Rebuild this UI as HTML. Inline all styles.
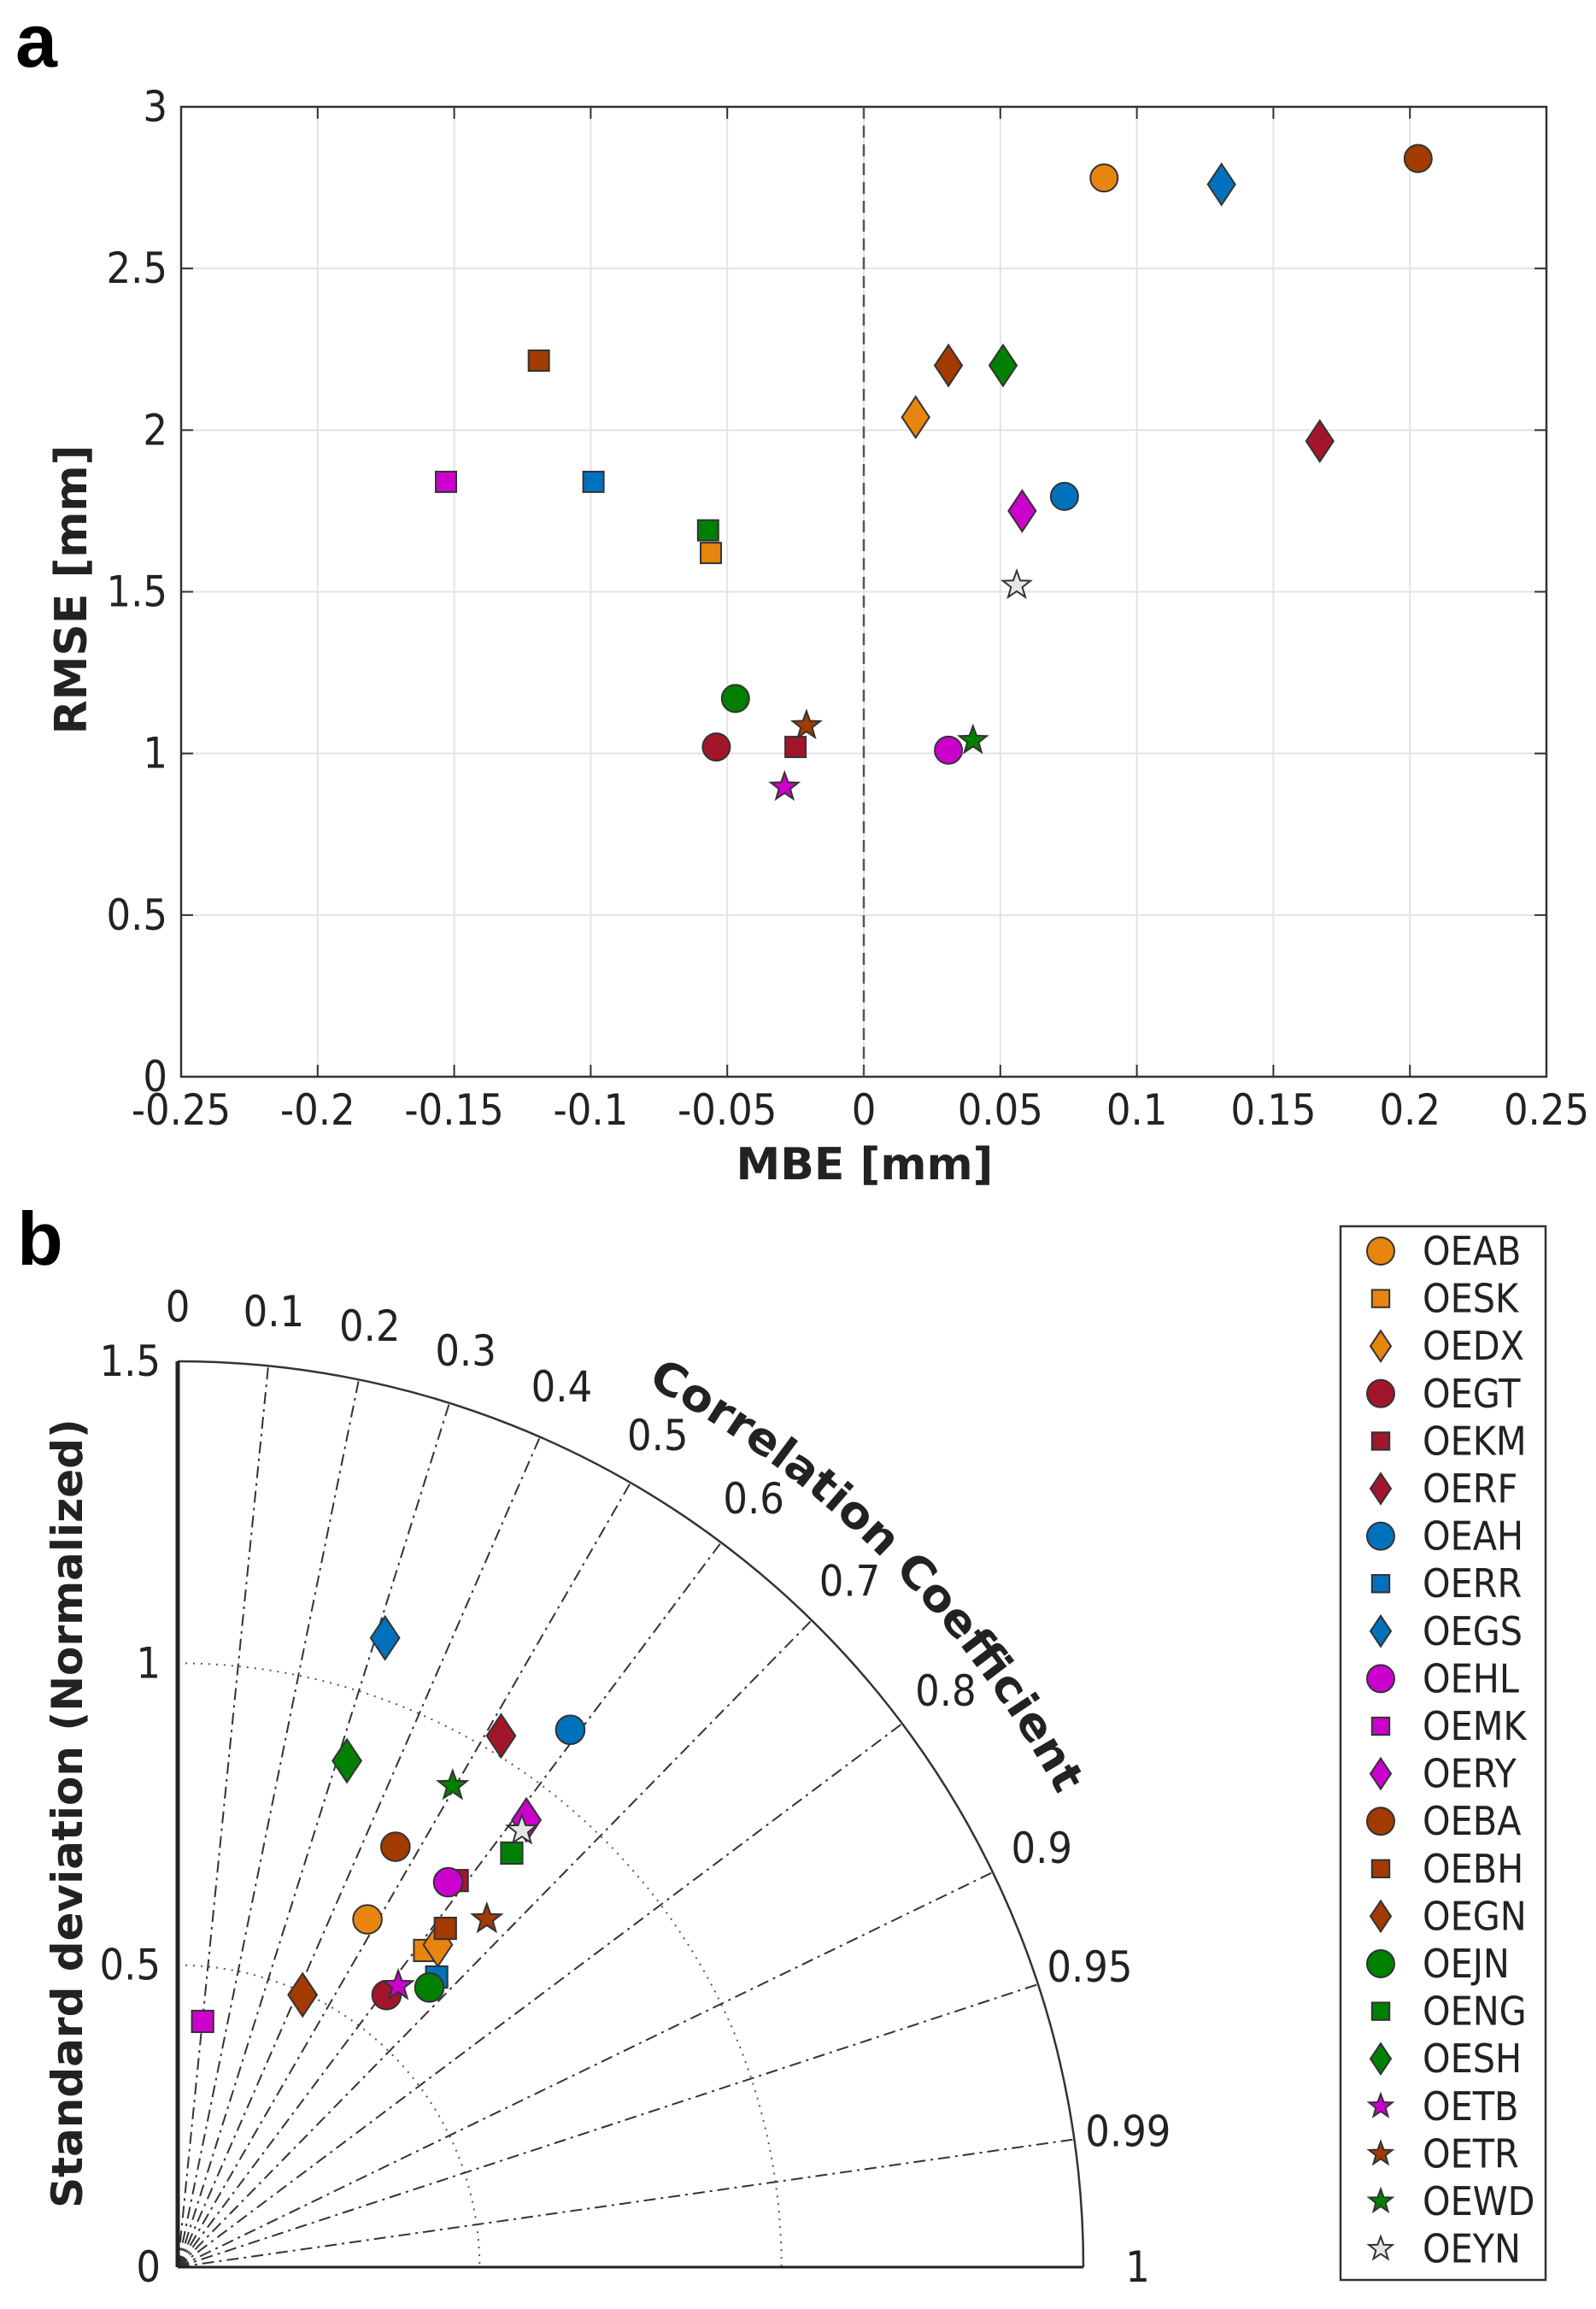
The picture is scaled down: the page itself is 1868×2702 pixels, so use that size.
<!DOCTYPE html>
<html><head><meta charset="utf-8"><style>
html,body{margin:0;padding:0;background:#fff}
svg{display:block;font-family:"DejaVu Sans","Liberation Sans",sans-serif}
</style></head><body>
<svg id="fig" width="1868" height="2702" viewBox="0 0 1868 2702" xmlns="http://www.w3.org/2000/svg">
<g id="pa"></g>
<g id="pb"></g>
<g id="lg"></g>
</svg>
<script>
// ---- data ----
const stations = ["OEAB","OESK","OEDX","OEGT","OEKM","OERF","OEAH","OERR","OEGS","OEHL","OEMK","OERY","OEBA","OEBH","OEGN","OEJN","OENG","OESH","OETB","OETR","OEWD","OEYN"];
const shapes = ["circle","square","diamond","circle","square","diamond","circle","square","diamond","circle","square","diamond","circle","square","diamond","circle","square","diamond","star","star","star","star"];
const colors = ["#E8850F","#E8850F","#E8850F","#A3152B","#A3152B","#A3152B","#0072BD","#0072BD","#0072BD","#CC00CC","#CC00CC","#CC00CC","#A33A00","#A33A00","#A33A00","#008000","#008000","#008000","#CC00CC","#A33A00","#008000","#E6E6E6"];
const mbe = [0.088,-0.056,0.019,-0.054,-0.025,0.167,0.0735,-0.099,0.131,0.031,-0.153,0.058,0.203,-0.119,0.031,-0.047,-0.057,0.051,-0.029,-0.021,0.040,0.056];
const rmse = [2.78,1.62,2.04,1.02,1.02,1.966,1.795,1.84,2.76,1.01,1.84,1.75,2.84,2.215,2.20,1.17,1.69,2.20,0.896,1.086,1.04,1.52];
const stdNorm = [0.656,0.665,0.686,0.568,0.790,1.030,1.102,0.644,1.097,0.779,0.409,0.939,0.784,0.715,0.496,0.623,0.881,0.884,0.592,0.771,0.918,0.921];
const corr = [0.479,0.615,0.628,0.609,0.586,0.520,0.590,0.666,0.313,0.575,0.101,0.615,0.460,0.620,0.417,0.669,0.628,0.317,0.617,0.664,0.496,0.619];
const xTicks = [-0.25,-0.2,-0.15,-0.1,-0.05,0,0.05,0.1,0.15,0.2,0.25];
const yTicks = [0,0.5,1,1.5,2,2.5,3];
const corrTicks = [0,0.1,0.2,0.3,0.4,0.5,0.6,0.7,0.8,0.9,0.95,0.99,1];
const stdTicks = [0,0.5,1,1.5];

const NS="http://www.w3.org/2000/svg";
function mk(tag,attrs,parent){const e=document.createElementNS(NS,tag);for(const k in attrs)e.setAttribute(k,attrs[k]);parent.appendChild(e);return e;}
function txt(s,attrs,parent){const e=mk("text",attrs,parent);e.textContent=s;return e;}
const TF='"DejaVu Sans Condensed","DejaVu Sans","Liberation Sans",sans-serif';

function marker(shape,color,cx,cy,s,parent){
  let e;
  if(shape==="circle") e=mk("circle",{cx:cx,cy:cy,r:16*s},parent);
  else if(shape==="square") e=mk("rect",{x:cx-12*s,y:cy-12*s,width:24*s,height:24*s},parent);
  else if(shape==="diamond") e=mk("polygon",{points:`${cx},${cy-24*s} ${cx+16*s},${cy} ${cx},${cy+24*s} ${cx-16*s},${cy}`},parent);
  else {let p=[];for(let i=0;i<10;i++){const r=(i%2?7:17)*s,a=-Math.PI/2+i*Math.PI/5;p.push((cx+r*Math.cos(a)).toFixed(1)+","+(cy+r*Math.sin(a)).toFixed(1));}
    e=mk("polygon",{points:p.join(" ")},parent);}
  e.setAttribute("fill",color);e.setAttribute("stroke","#333");e.setAttribute("stroke-width","2");
  return e;
}

// ---- panel a ----
const pa=document.getElementById("pa");
const X0=212,X1=1810,Y0=1260,Y1=125;
const xs=v=>X0+(v+0.25)/0.5*(X1-X0);
const ys=v=>Y0-(v/3)*(Y0-Y1);
let t=txt("a",{x:18,y:78,"font-size":88,"font-weight":"bold","font-family":"Liberation Sans, sans-serif"},pa);

mk("rect",{x:X0,y:Y1,width:X1-X0,height:Y0-Y1,fill:"#fff"},pa);
xTicks.forEach(v=>{
  const g=mk("line",{x1:xs(v),x2:xs(v),y1:Y1,y2:Y0,stroke:"#e3e3e3","stroke-width":2},pa);
  
  mk("line",{x1:xs(v),x2:xs(v),y1:Y0,y2:Y0-14,stroke:"#333","stroke-width":2},pa);
  mk("line",{x1:xs(v),x2:xs(v),y1:Y1,y2:Y1+14,stroke:"#333","stroke-width":2},pa);
  const l=txt(String(v),{x:xs(v),y:1316,"font-size":50,"text-anchor":"middle",fill:"#222","font-family":TF},pa);
  
});
yTicks.forEach(v=>{
  const g=mk("line",{x1:X0,x2:X1,y1:ys(v),y2:ys(v),stroke:"#e3e3e3","stroke-width":2},pa);
  
  mk("line",{x1:X0,x2:X0+14,y1:ys(v),y2:ys(v),stroke:"#333","stroke-width":2},pa);
  mk("line",{x1:X1,x2:X1-14,y1:ys(v),y2:ys(v),stroke:"#333","stroke-width":2},pa);
  const l=txt(String(v),{x:196,y:ys(v)+17,"font-size":50,"text-anchor":"end",fill:"#222","font-family":TF},pa);
  
});
mk("rect",{x:X0,y:Y1,width:X1-X0,height:Y0-Y1,fill:"none",stroke:"#333","stroke-width":2.5},pa);
let zl=mk("line",{x1:xs(0),x2:xs(0),y1:Y1,y2:Y0,stroke:"#555","stroke-width":2.5,"stroke-dasharray":"14,8"},pa);

t=txt("MBE [mm]",{x:1012,y:1380,"font-size":52,"font-weight":"bold","text-anchor":"middle",fill:"#222"},pa);

t=txt("RMSE [mm]",{x:0,y:0,"font-size":52,"font-weight":"bold","text-anchor":"middle",fill:"#222",transform:"translate(101,690) rotate(-90)"},pa);

stations.forEach((s,i)=>{
  const m=marker(shapes[i],colors[i],xs(mbe[i]),ys(rmse[i]),1,pa);
  
  
});

// ---- panel b (Taylor) ----
const pb=document.getElementById("pb");
const OX=208,OY=2653,R=1060/1.5;
const px=(sd,c)=>OX+sd*R*c;
const py=(sd,c)=>OY-sd*R*Math.sqrt(Math.max(0,1-c*c));
t=txt("b",{x:20,y:1480,"font-size":88,"font-weight":"bold","font-family":"Liberation Sans, sans-serif"},pb);

[0.5,1.0].forEach(r=>{
  const a=mk("path",{d:`M ${OX} ${OY-r*R} A ${r*R} ${r*R} 0 0 1 ${OX+r*R} ${OY}`,fill:"none",stroke:"#555","stroke-width":2,"stroke-dasharray":"2,7"},pb);
  
});
corrTicks.forEach(c=>{
  if(c>0&&c<1){
    const l=mk("line",{x1:OX,y1:OY,x2:px(1.5,c),y2:py(1.5,c),stroke:"#333","stroke-width":2,"stroke-dasharray":"14,6,3,6"},pb);
    
  }
  const lb=txt(String(c),{x:px(1.59,c),y:py(1.59,c)+17,"font-size":50,"text-anchor":"middle",fill:"#222","font-family":TF},pb);
  
});
let arc=mk("path",{d:`M ${OX} ${OY-1.5*R} A ${1.5*R} ${1.5*R} 0 0 1 ${OX+1.5*R} ${OY}`,fill:"none",stroke:"#333","stroke-width":2.5},pb);

let ax=mk("line",{x1:OX,y1:OY-1.5*R,x2:OX,y2:OY,stroke:"#222","stroke-width":5},pb);

ax=mk("line",{x1:OX,y1:OY,x2:OX+1.5*R,y2:OY,stroke:"#222","stroke-width":3},pb);

stdTicks.forEach(v=>{
  const l=txt(String(v),{x:188,y:OY-v*R+17,"font-size":50,"text-anchor":"end",fill:"#222","font-family":TF},pb);
  
});
const rr=1.655*R,a1=62*Math.PI/180,a2=27.5*Math.PI/180;
mk("path",{id:"ccpath",d:`M ${OX+rr*Math.cos(a1)} ${OY-rr*Math.sin(a1)} A ${rr} ${rr} 0 0 1 ${OX+rr*Math.cos(a2)} ${OY-rr*Math.sin(a2)}`,fill:"none"},pb);
t=mk("text",{"font-size":52,"font-weight":"bold",fill:"#222"},pb);

const tp=mk("textPath",{href:"#ccpath",startOffset:"0",textLength:Math.round(rr*(a1-a2)*0.98),lengthAdjust:"spacingAndGlyphs"},t);tp.textContent="Correlation Coefficient";
t=txt("Standard deviation (Normalized)",{x:0,y:0,"font-size":50,"font-weight":"bold","text-anchor":"middle",fill:"#222",transform:"translate(96,2122) rotate(-90)"},pb);

stations.forEach((s,i)=>{
  const m=marker(shapes[i],colors[i],px(stdNorm[i],corr[i]),py(stdNorm[i],corr[i]),1.05,pb);
  
  
});

// ---- legend ----
const lg=document.getElementById("lg");
let box=mk("rect",{x:1569,y:1435,width:240,height:1233,fill:"#fff",stroke:"#333","stroke-width":2.5},lg);

stations.forEach((s,i)=>{
  const y=1464+i*55.6;
  const g=mk("g",{},lg);
  
  
  marker(shapes[i],colors[i],1616,y,shapes[i]==="diamond"?0.75:(shapes[i]==="circle"?1:0.85),g);
  txt(s,{x:1665,y:y+16,"font-size":46,fill:"#222","font-family":TF},g);
});
</script>
</body></html>
